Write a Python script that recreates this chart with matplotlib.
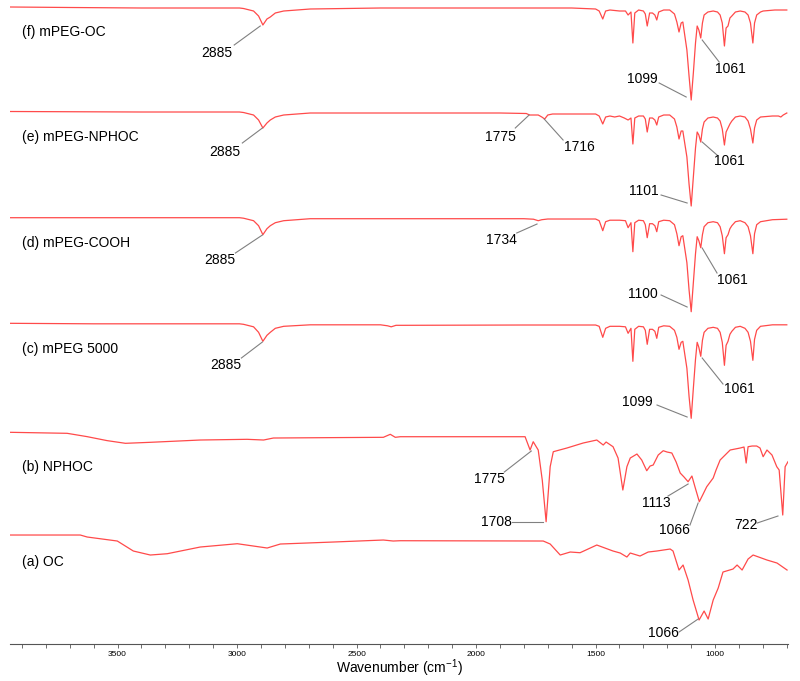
import matplotlib
matplotlib.use("Agg")
import matplotlib.pyplot as plt
from matplotlib.ticker import MultipleLocator

plt.rcParams['font.family'] = ['Liberation Sans', 'DejaVu Sans']

# ---- spectra (wavenumber cm-1, relative transmittance; 0 = baseline) ----
f_wn = [3950, 3700, 3400, 2990, 2973, 2931, 2910, 2892, 2875, 2861, 2840, 2805, 2694, 2400, 1800, 1600,
        1500, 1485, 1470, 1458, 1440, 1400, 1375, 1364, 1352, 1344, 1336, 1320, 1300, 1292, 1284, 1274,
        1262, 1252, 1244, 1236, 1215, 1190, 1170, 1160, 1151, 1142, 1135, 1118, 1109, 1100, 1091, 1082,
        1075, 1068, 1060, 1053, 1046, 1030, 1008, 990, 979, 970, 961, 954, 946, 938, 930, 915, 895,
        875, 862, 852, 842, 835, 826, 810, 799, 750, 720, 700]
f_val = [1, 0.5, 0, 0, -0.5, -3, -8, -17, -11, -9, -5, -3, -1, 0, 0, 0,
         -1, -3, -11, -3, -2, -3, -3, -7, -4, -35, -5, -2, -3, -6, -18, -5,
         -5, -7, -12, -4, -2, -2, -6, -14, -24, -15, -14, -42, -68, -92, -65, -35,
         -18, -22, -30, -15, -7, -4, -3, -4, -7, -15, -38, -20, -18, -10, -8, -4, -3,
         -4, -7, -15, -35, -15, -7, -4, -3, -2, -2, -2]

e_wn = [3950, 3400, 2990, 2973, 2931, 2910, 2892, 2875, 2861, 2840, 2805, 2694, 2400, 1900, 1790, 1776,
        1760, 1740, 1725, 1713, 1700, 1680, 1500, 1485, 1470, 1458, 1440, 1420, 1400, 1380, 1364, 1352,
        1344, 1336, 1320, 1300, 1292, 1284, 1274, 1262, 1252, 1244, 1236, 1215, 1190, 1170, 1160, 1151,
        1142, 1135, 1118, 1109, 1100, 1091, 1082, 1075, 1068, 1060, 1053, 1046, 1030, 1008, 990, 979,
        970, 961, 954, 946, 938, 930, 915, 895, 875, 862, 852, 842, 835, 826, 810, 760, 735, 725, 715, 700]
e_val = [0.5, 0, 0, -0.5, -3, -8, -16, -11, -8, -5, -3, -1, -1, -1, -1.5, -3,
         -3, -3, -5, -7, -3, -2, -2, -4, -12, -5, -4, -5, -4, -6, -8, -6,
         -32, -6, -4, -4, -7, -20, -6, -6, -8, -13, -5, -3, -3, -7, -15, -27,
         -19, -19, -45, -72, -94, -65, -36, -20, -23, -30, -17, -10, -6, -5, -6, -9,
         -17, -33, -20, -16, -12, -9, -5, -4, -5, -9, -17, -31, -16, -8, -5, -4, -4, -5, -3, -1]

d_wn = [3950, 3400, 2990, 2973, 2931, 2910, 2892, 2875, 2861, 2840, 2805, 2694, 2400, 1800, 1760, 1740,
        1725, 1700, 1500, 1485, 1470, 1458, 1440, 1400, 1375, 1364, 1352, 1344, 1336, 1320, 1300, 1292,
        1284, 1274, 1262, 1252, 1244, 1236, 1215, 1190, 1170, 1160, 1151, 1142, 1135, 1118, 1109, 1100,
        1091, 1082, 1075, 1068, 1060, 1053, 1046, 1030, 1008, 990, 979, 970, 961, 954, 946, 938, 930,
        915, 895, 875, 862, 852, 842, 835, 826, 810, 760, 700]
d_val = [0, 0, 0, -0.5, -3, -8, -17, -11, -8, -5, -3, -1, -1, -1, -1.5, -3,
         -2, -1.3, -1.3, -3, -13, -4, -2.5, -2.5, -3, -10, -5, -34, -5, -2.5, -3, -7,
         -20, -6, -6, -8, -14, -4, -2.5, -3, -7, -16, -28, -19, -18, -45, -72, -94,
         -65, -36, -19, -23, -30, -17, -9, -5, -4, -5, -9, -18, -36, -20, -17, -11, -8,
         -4, -3, -5, -9, -18, -36, -16, -7, -4, -2, -1.5]

c_wn = [3950, 3600, 3400, 2990, 2973, 2931, 2910, 2892, 2875, 2861, 2840, 2805, 2694, 2400, 2370, 2355,
        2335, 2300, 1800, 1500, 1485, 1470, 1458, 1440, 1400, 1375, 1364, 1352, 1344, 1336, 1320, 1300,
        1292, 1284, 1274, 1262, 1252, 1244, 1236, 1215, 1190, 1170, 1160, 1151, 1142, 1135, 1118, 1109,
        1100, 1091, 1082, 1075, 1068, 1060, 1053, 1046, 1030, 1008, 990, 979, 970, 961, 954, 946, 938,
        930, 915, 895, 875, 862, 852, 842, 835, 826, 810, 760, 700]
c_val = [0, -0.5, -0.5, -0.5, -1, -3.5, -9, -18, -12, -9, -5, -3, -1.5, -1.5, -2.5, -3.5,
         -2, -2, -1.7, -1.7, -3, -14, -5, -3, -3, -3.5, -10, -5, -38, -6, -3, -3.5,
         -7, -21, -6, -6, -8, -15, -4, -2.5, -3, -7, -14, -26, -19, -18, -45, -73,
         -95, -65, -36, -19, -24, -33, -17, -9, -5, -4, -5, -9, -19, -42, -22, -18, -11,
         -8, -4, -3, -5, -9, -18, -37, -16, -7, -3, -1.5, -1.5]

b_wn = [3948, 3711, 3628, 3544, 3467, 3363, 3154, 2958, 2889, 2848, 2597, 2388, 2359, 2338, 2317, 1795,
        1774, 1761, 1740, 1723, 1707, 1690, 1677, 1620, 1552, 1495, 1468, 1456, 1427, 1406, 1386, 1369,
        1355, 1327, 1307, 1286, 1272, 1259, 1238, 1217, 1201, 1181, 1163, 1146, 1130, 1113, 1097, 1084,
        1066, 1050, 1035, 1008, 996, 979, 958, 937, 895, 879, 870, 862, 845, 826, 812, 799, 783, 762,
        742, 732, 717, 707, 695]
b_val = [0, -1, -4.3, -8.3, -11, -10, -7.7, -7, -7.7, -5.7, -5.3, -5, -2, -5, -4.4, -4.4,
         -17.7, -9.4, -17.7, -48, -89.4, -34.4, -19.4, -15.7, -10.7, -7.7, -12.7, -9.7, -14.4, -25.7, -57.7, -34.4,
         -25.7, -21.7, -27.7, -38.4, -33.7, -32.7, -22.7, -18.4, -19.7, -20.7, -29.7, -40.7, -44.7, -49.4, -43.7, -54.7,
         -69.4, -61.7, -54.4, -45.7, -37.7, -27.7, -22.7, -17.7, -15.7, -14.7, -30.7, -14.4, -13.7, -13.7, -15.7, -24.4, -17.7, -22.7,
         -34.4, -37.7, -82.7, -34.4, -29.4]

a_wn = [3948, 3656, 3627, 3501, 3434, 3363, 3292, 3154, 2999, 2932, 2874, 2819, 2597, 2388, 2347, 2317,
        1719, 1690, 1648, 1606, 1565, 1495, 1427, 1397, 1369, 1355, 1314, 1280, 1244, 1188, 1176, 1151,
        1134, 1113, 1092, 1067, 1046, 1029, 1008, 987, 967, 925, 908, 887, 862, 841, 783, 741, 699]
a_val = [0, 0, -2, -6, -16, -20, -18.7, -12, -8.7, -11, -13, -9, -7, -5, -6, -5.7,
         -6, -9, -20, -17, -17.7, -10, -16, -18, -22, -18, -21, -17, -16, -14, -16, -35,
         -30, -45, -65, -85, -76, -84, -65, -53, -37, -34, -30, -35, -24, -20, -25, -28, -35]

names = ["(f) mPEG-OC", "(e) mPEG-NPHOC", "(d) mPEG-COOH", "(c) mPEG 5000", "(b) NPHOC", "(a) OC"]
spectra = [(f_wn, f_val), (e_wn, e_val), (d_wn, d_val), (c_wn, c_val), (b_wn, b_val), (a_wn, a_val)]
offsets = [636, 532, 426.3, 320.7, 211.7, 109]
name_y = [612, 507, 401, 295, 177, 82]

# peak labels: (text, text x, text y, line start x, y, line end x, y)
peak_labels = [
    ("2885", 3083, 591, 3012, 599, 2903, 618),
    ("1099", 1303, 565, 1234, 561, 1121, 547),
    ("1061", 935, 575, 983, 582, 1054, 604),
    ("2885", 3051, 492, 2978, 501, 2894, 516),
    ("1775", 1897, 507, 1836, 516, 1778, 529),
    ("1716", 1569, 497, 1636, 504, 1715, 525),
    ("1061", 939, 483, 992, 489, 1054, 502),
    ("1101", 1299, 453, 1226, 449, 1117, 441),
    ("2885", 3074, 384, 3007, 391, 2894, 409),
    ("1734", 1895, 404, 1830, 411, 1745, 420),
    ("1061", 927, 364, 992, 371, 1054, 396),
    ("1100", 1301, 350, 1226, 349, 1117, 337),
    ("2885", 3047, 279, 2982, 286, 2894, 302),
    ("1061", 900, 255, 967, 260, 1054, 286),
    ("1099", 1324, 242, 1243, 239, 1117, 227),
    ("1775", 1945, 165, 1882, 172, 1769, 193),
    ("1708", 1916, 122, 1849, 122, 1719, 122),
    ("1113", 1247, 141, 1197, 148, 1113, 160),
    ("1066", 1171, 114, 1105, 119, 1071, 141),
    ("722", 872, 119, 824, 121, 737, 128),
    ("1066", 1217, 11, 1151, 12, 1071, 25),
]

fig = plt.figure(figsize=(8, 6.81), dpi=100)
ax = fig.add_axes([0.0125, 0.0543, 0.9725, 0.9457])

for (wn, val), off, name, ny in zip(spectra, offsets, names, name_y):
    ax.plot(wn, [v + off for v in val], color='#ff4a4a', lw=0.9)
    ax.text(3898, ny, name, fontsize=10, ha='left', va='center')

for txt, tx, ty, x1, y1, x2, y2 in peak_labels:
    ax.plot([x1, x2], [y1, y2], color='#808080', lw=0.8)
    ax.text(tx, ty, txt, fontsize=10, ha='center', va='center')

ax.set_xlim(3950, 695)
ax.set_ylim(0, 644)
for s in ['top', 'left', 'right']:
    ax.spines[s].set_visible(False)
ax.spines['bottom'].set_color('#555555')
ax.spines['bottom'].set_linewidth(0.8)
ax.set_yticks([])
ax.xaxis.set_major_locator(MultipleLocator(500))
ax.xaxis.set_minor_locator(MultipleLocator(100))
ax.set_xticks([3500, 3000, 2500, 2000, 1500, 1000])
ax.tick_params(axis='x', which='both', length=3, width=0.6, color='#555555', labelsize=6, pad=2)
ax.set_xlabel(r'Wavenumber (cm$^{\mathregular{-1}}$)', fontsize=10, va='center')
ax.xaxis.set_label_coords(0.5, -0.037)

fig.savefig("out.png", dpi=100)
